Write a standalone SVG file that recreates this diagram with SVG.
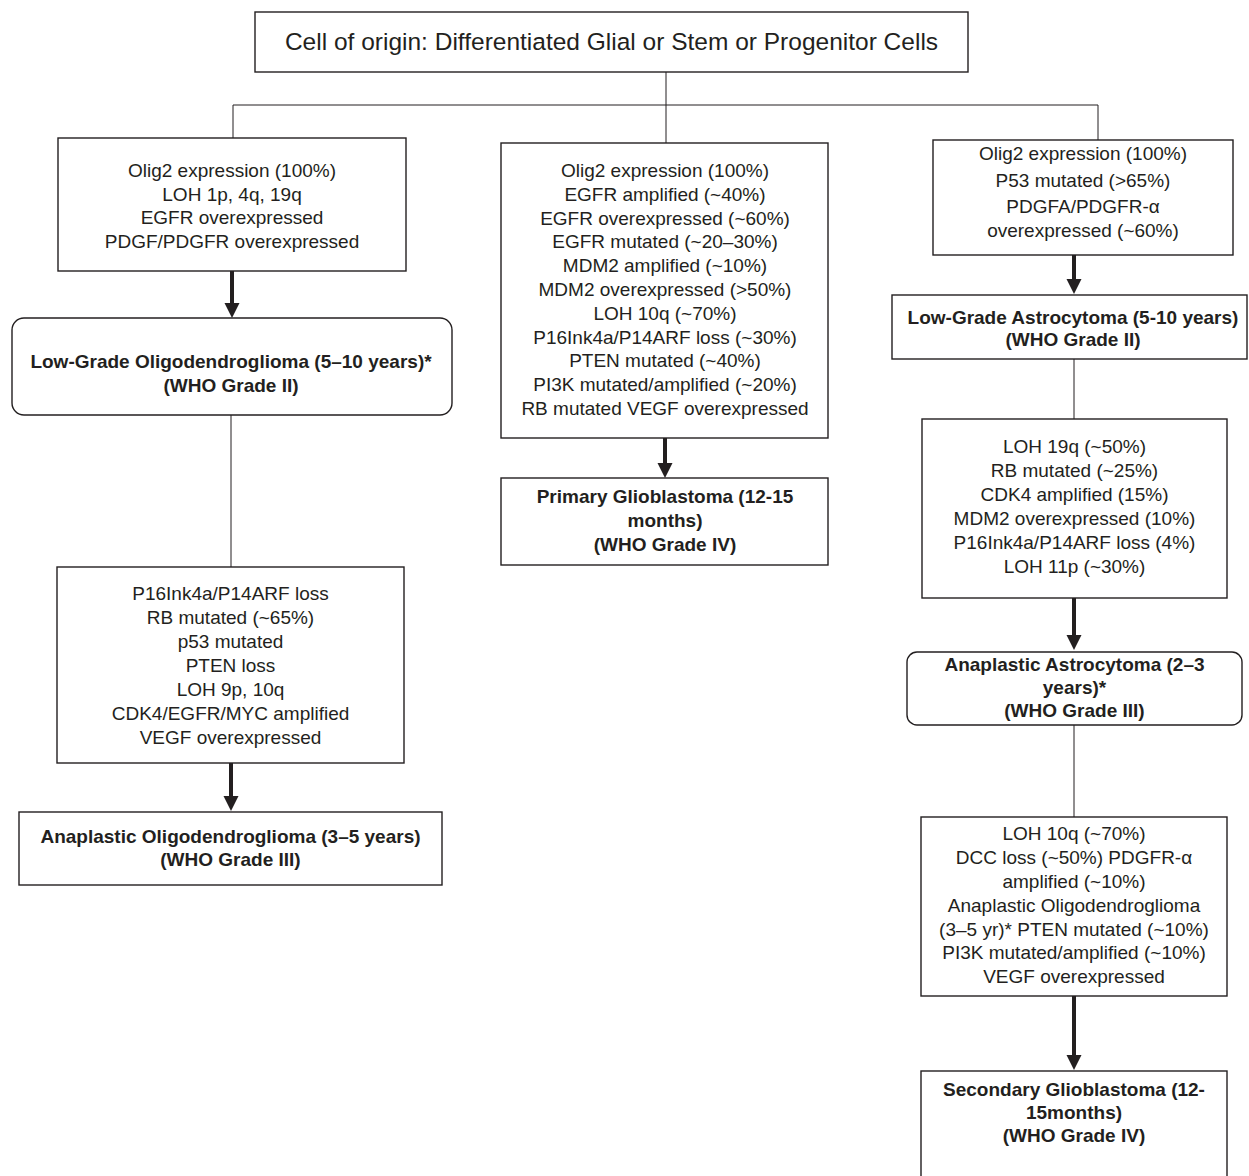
<svg xmlns="http://www.w3.org/2000/svg" width="1249" height="1176" viewBox="0 0 1249 1176">
<style>
.box{fill:#fff;stroke:#231f20;stroke-width:1.4}
.t{font-family:"Liberation Sans",Arial,sans-serif;font-size:19px;fill:#231f20;text-anchor:middle}
.b{font-weight:bold}
.title{font-size:24.5px}
.thin{stroke:#231f20;stroke-width:1;fill:none}
.thick{stroke:#231f20;stroke-width:4;fill:none}
.head{fill:#231f20}
</style>
<defs>
<path id="ah" d="M-7.5,0 L7.5,0 L0,15 Z"/>
</defs>
<rect width="1249" height="1176" fill="#fff"/>

<g id="connectors">
<path class="thin" d="M666,72 V143 M233,105 H1098 M233,105 V138 M1098,105 V140"/>
<path class="thin" d="M231,415 V567 M1074,359 V419 M1074,725 V817"/>
<path class="thick" d="M232,271 V304 M665,438 V464 M1074,255 V280 M231,763 V797 M1074,598 V636 M1074,996 V1055"/>
<g class="head">
<use href="#ah" x="232" y="303"/>
<use href="#ah" x="665" y="463"/>
<use href="#ah" x="1074" y="279"/>
<use href="#ah" x="231" y="796"/>
<use href="#ah" x="1074" y="635"/>
<use href="#ah" x="1074" y="1055"/>
</g>
</g>

<g id="origin">
<rect class="box" x="255" y="12" width="713" height="60"/>
<text class="t title" x="611.5" y="50">Cell of origin: Differentiated Glial or Stem or Progenitor Cells</text>
</g>

<g id="oligo-markers">
<rect class="box" x="58" y="138" width="348" height="133"/>
<text class="t" x="232" y="177">Olig2 expression (100%)</text>
<text class="t" x="232" y="200.5">LOH 1p, 4q, 19q</text>
<text class="t" x="232" y="224">EGFR overexpressed</text>
<text class="t" x="232" y="247.5">PDGF/PDGFR overexpressed</text>
</g>

<g id="low-grade-oligo">
<rect class="box" x="12" y="318" width="440" height="97" rx="12" ry="12"/>
<text class="t b" x="231" y="368">Low-Grade Oligodendroglioma (5–10 years)*</text>
<text class="t b" x="231" y="392">(WHO Grade II)</text>
</g>

<g id="oligo-progression-markers">
<rect class="box" x="57" y="567" width="347" height="196"/>
<text class="t" x="230.5" y="600">P16Ink4a/P14ARF loss</text>
<text class="t" x="230.5" y="624">RB mutated (~65%)</text>
<text class="t" x="230.5" y="648">p53 mutated</text>
<text class="t" x="230.5" y="672">PTEN loss</text>
<text class="t" x="230.5" y="696">LOH 9p, 10q</text>
<text class="t" x="230.5" y="720">CDK4/EGFR/MYC amplified</text>
<text class="t" x="230.5" y="744">VEGF overexpressed</text>
</g>

<g id="anaplastic-oligo">
<rect class="box" x="19" y="812" width="423" height="73"/>
<text class="t b" x="230.5" y="843">Anaplastic Oligodendroglioma (3–5 years)</text>
<text class="t b" x="230.5" y="866">(WHO Grade III)</text>
</g>

<g id="primary-markers">
<rect class="box" x="501" y="143" width="327" height="295"/>
<text class="t" x="665" y="177">Olig2 expression (100%)</text>
<text class="t" x="665" y="200.8">EGFR amplified (~40%)</text>
<text class="t" x="665" y="224.6">EGFR overexpressed (~60%)</text>
<text class="t" x="665" y="248.4">EGFR mutated (~20–30%)</text>
<text class="t" x="665" y="272.2">MDM2 amplified (~10%)</text>
<text class="t" x="665" y="296">MDM2 overexpressed (&gt;50%)</text>
<text class="t" x="665" y="319.8">LOH 10q (~70%)</text>
<text class="t" x="665" y="343.6">P16Ink4a/P14ARF loss (~30%)</text>
<text class="t" x="665" y="367.4">PTEN mutated (~40%)</text>
<text class="t" x="665" y="391.2">PI3K mutated/amplified (~20%)</text>
<text class="t" x="665" y="415">RB mutated VEGF overexpressed</text>
</g>

<g id="primary-gbm">
<rect class="box" x="501" y="478" width="327" height="87"/>
<text class="t b" x="665" y="503">Primary Glioblastoma (12-15</text>
<text class="t b" x="665" y="527">months)</text>
<text class="t b" x="665" y="551">(WHO Grade IV)</text>
</g>

<g id="astro-markers">
<rect class="box" x="933" y="140" width="300" height="115"/>
<text class="t" x="1083" y="160">Olig2 expression (100%)</text>
<text class="t" x="1083" y="186.5">P53 mutated (&gt;65%)</text>
<text class="t" x="1083" y="213">PDGFA/PDGFR-α</text>
<text class="t" x="1083" y="237">overexpressed (~60%)</text>
</g>

<g id="low-grade-astro">
<rect class="box" x="892" y="295" width="355" height="64"/>
<text class="t b" x="1073" y="324">Low-Grade Astrocytoma (5-10 years)</text>
<text class="t b" x="1073" y="346">(WHO Grade II)</text>
</g>

<g id="astro-progression-markers">
<rect class="box" x="922" y="419" width="305" height="179"/>
<text class="t" x="1074.5" y="453">LOH 19q (~50%)</text>
<text class="t" x="1074.5" y="477">RB mutated (~25%)</text>
<text class="t" x="1074.5" y="501">CDK4 amplified (15%)</text>
<text class="t" x="1074.5" y="525">MDM2 overexpressed (10%)</text>
<text class="t" x="1074.5" y="549">P16Ink4a/P14ARF loss (4%)</text>
<text class="t" x="1074.5" y="573">LOH 11p (~30%)</text>
</g>

<g id="anaplastic-astro">
<rect class="box" x="907" y="652" width="335" height="73" rx="10" ry="10"/>
<text class="t b" x="1074.5" y="671">Anaplastic Astrocytoma (2–3</text>
<text class="t b" x="1074.5" y="694">years)*</text>
<text class="t b" x="1074.5" y="717">(WHO Grade III)</text>
</g>

<g id="secondary-markers">
<rect class="box" x="921" y="817" width="306" height="179"/>
<text class="t" x="1074" y="840">LOH 10q (~70%)</text>
<text class="t" x="1074" y="864">DCC loss (~50%) PDGFR-α</text>
<text class="t" x="1074" y="888">amplified (~10%)</text>
<text class="t" x="1074" y="912">Anaplastic Oligodendroglioma</text>
<text class="t" x="1074" y="936">(3–5 yr)* PTEN mutated (~10%)</text>
<text class="t" x="1074" y="959">PI3K mutated/amplified (~10%)</text>
<text class="t" x="1074" y="983">VEGF overexpressed</text>
</g>

<g id="secondary-gbm">
<rect class="box" x="921" y="1071" width="306" height="115"/>
<text class="t b" x="1074" y="1096">Secondary Glioblastoma (12-</text>
<text class="t b" x="1074" y="1119">15months)</text>
<text class="t b" x="1074" y="1142">(WHO Grade IV)</text>
</g>
</svg>
